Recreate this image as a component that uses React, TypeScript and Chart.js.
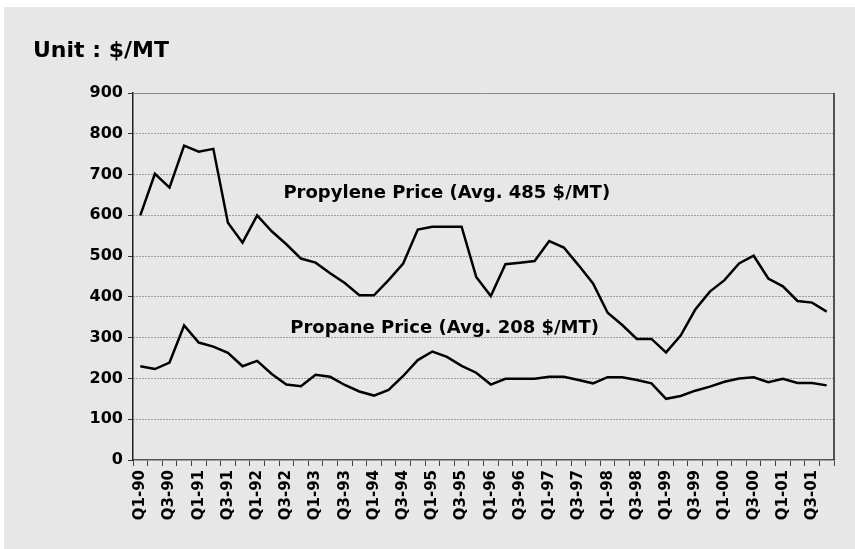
import React, { useEffect, useRef } from "react";
import { Chart, registerables } from "chart.js";

Chart.register(...registerables);

const quarters = [
  "Q1-90", "Q2-90", "Q3-90", "Q4-90", "Q1-91", "Q2-91", "Q3-91", "Q4-91",
  "Q1-92", "Q2-92", "Q3-92", "Q4-92", "Q1-93", "Q2-93", "Q3-93", "Q4-93",
  "Q1-94", "Q2-94", "Q3-94", "Q4-94", "Q1-95", "Q2-95", "Q3-95", "Q4-95",
  "Q1-96", "Q2-96", "Q3-96", "Q4-96", "Q1-97", "Q2-97", "Q3-97", "Q4-97",
  "Q1-98", "Q2-98", "Q3-98", "Q4-98", "Q1-99", "Q2-99", "Q3-99", "Q4-99",
  "Q1-00", "Q2-00", "Q3-00", "Q4-00", "Q1-01", "Q2-01", "Q3-01", "Q4-01",
];

const propylene = [
  600, 702, 668, 771, 756, 763, 582, 533, 600, 561, 529, 494,
  484, 458, 434, 404, 404, 441, 482, 565, 572, 572, 572, 449,
  402, 480, 484, 488, 537, 521, 478, 433, 361, 331, 297, 297,
  264, 305, 369, 413, 441, 482, 501, 445, 426, 390, 386, 364,
];

const propane = [
  230, 223, 239, 330, 288, 278, 263, 230, 243, 211, 185, 181,
  209, 204, 184, 168, 158, 172, 206, 245, 266, 253, 231, 214,
  185, 199, 199, 199, 204, 204, 196, 188, 203, 203, 196, 188,
  150, 157, 170, 180, 192, 200, 203, 191, 199, 189, 189, 183,
];

const yTicks = [0, 100, 200, 300, 400, 500, 600, 700, 800, 900];

const unitTitle = "Unit : $/MT";
const propyleneNote = "Propylene Price (Avg. 485 $/MT)";
const propaneNote = "Propane Price (Avg. 208 $/MT)";

const W = 851;
const H = 542;

const overlayPlugin = {
  id: "overlay",
  afterDatasetsDraw(chart: any) {
    const { ctx, chartArea, scales } = chart;
    const x = scales.x;
    const y = scales.y;
    ctx.save();
    ctx.strokeStyle = "#222";
    ctx.lineWidth = 1.5;
    ctx.beginPath();
    ctx.moveTo(chartArea.right, chartArea.top);
    ctx.lineTo(chartArea.right, chartArea.bottom);
    ctx.stroke();

    ctx.fillStyle = "#000";
    ctx.textBaseline = "alphabetic";
    ctx.textAlign = "left";
    ctx.font = "bold 22px 'DejaVu Sans'";
    ctx.fillText(unitTitle, 29, 50);

    ctx.font = "bold 18px 'DejaVu Sans'";
    ctx.fillText(propyleneNote, x.getPixelForValue(9.8), y.getPixelForValue(642));
    ctx.fillText(propaneNote, x.getPixelForValue(10.27), y.getPixelForValue(312));
    ctx.restore();
  },
};

export default function App() {
  const ref = useRef<HTMLCanvasElement | null>(null);

  useEffect(() => {
    if (!ref.current) return;
    const chart = new Chart(ref.current, {
      type: "line",
      data: {
        labels: quarters,
        datasets: [
          {
            label: "Propylene",
            data: propylene,
            borderColor: "#000",
            borderWidth: 2.5,
            pointRadius: 0,
            tension: 0,
            fill: false,
          },
          {
            label: "Propane",
            data: propane,
            borderColor: "#000",
            borderWidth: 2.5,
            pointRadius: 0,
            tension: 0,
            fill: false,
          },
        ],
      },
      options: {
        responsive: false,
        animation: false,
        layout: { padding: { top: 86, right: 21, bottom: 0, left: 0 } },
        plugins: {
          legend: { display: false },
          tooltip: { enabled: false },
          title: { display: false },
        },
        scales: {
          x: {
            type: "category",
            offset: true,
            afterFit: (scale: any) => {
              scale.height = 89;
            },
            grid: {
              offset: true,
              drawOnChartArea: false,
              drawTicks: true,
              tickLength: 6,
              tickColor: "#444",
              tickWidth: 1,
            },
            border: { display: true, color: "#555", width: 1.5 },
            ticks: {
              autoSkip: false,
              maxRotation: 90,
              minRotation: 90,
              padding: 4,
              color: "#000",
              font: { family: "'DejaVu Sans'", weight: "bold", size: 15 },
              callback: (_v: any, i: number) => (i % 2 === 0 ? quarters[i] : ""),
            },
          },
          y: {
            min: 0,
            max: 900,
            afterFit: (scale: any) => {
              scale.width = 129;
            },
            afterBuildTicks: (scale: any) => {
              scale.ticks = yTicks.map((v) => ({ value: v }));
            },
            grid: {
              color: (c: any) =>
                c.tick && c.tick.value === 900 ? "#8a8a8a" : c.tick && c.tick.value === 0 ? "rgba(0,0,0,0)" : "#555",
              lineWidth: 1,
              drawTicks: true,
              tickLength: 5,
              tickColor: "#333",
              tickWidth: 1,
            },
            border: {
              display: true,
              color: "#222",
              width: 1.5,
              dash: (c: any) => (c.tick && c.tick.value !== 900 ? [1, 2] : []),
            },
            ticks: {
              padding: 5,
              color: "#000",
              font: { family: "'DejaVu Sans'", weight: "bold", size: 16 },
            },
          },
        },
      },
      plugins: [overlayPlugin],
    });
    return () => chart.destroy();
  }, []);

  return (
    <div
      style={{
        position: "fixed",
        left: 4,
        top: 7,
        width: W,
        height: H,
        background: "#e7e7e7",
      }}
    >
      <canvas ref={ref} width={W} height={H} style={{ display: "block" }} />
    </div>
  );
}
